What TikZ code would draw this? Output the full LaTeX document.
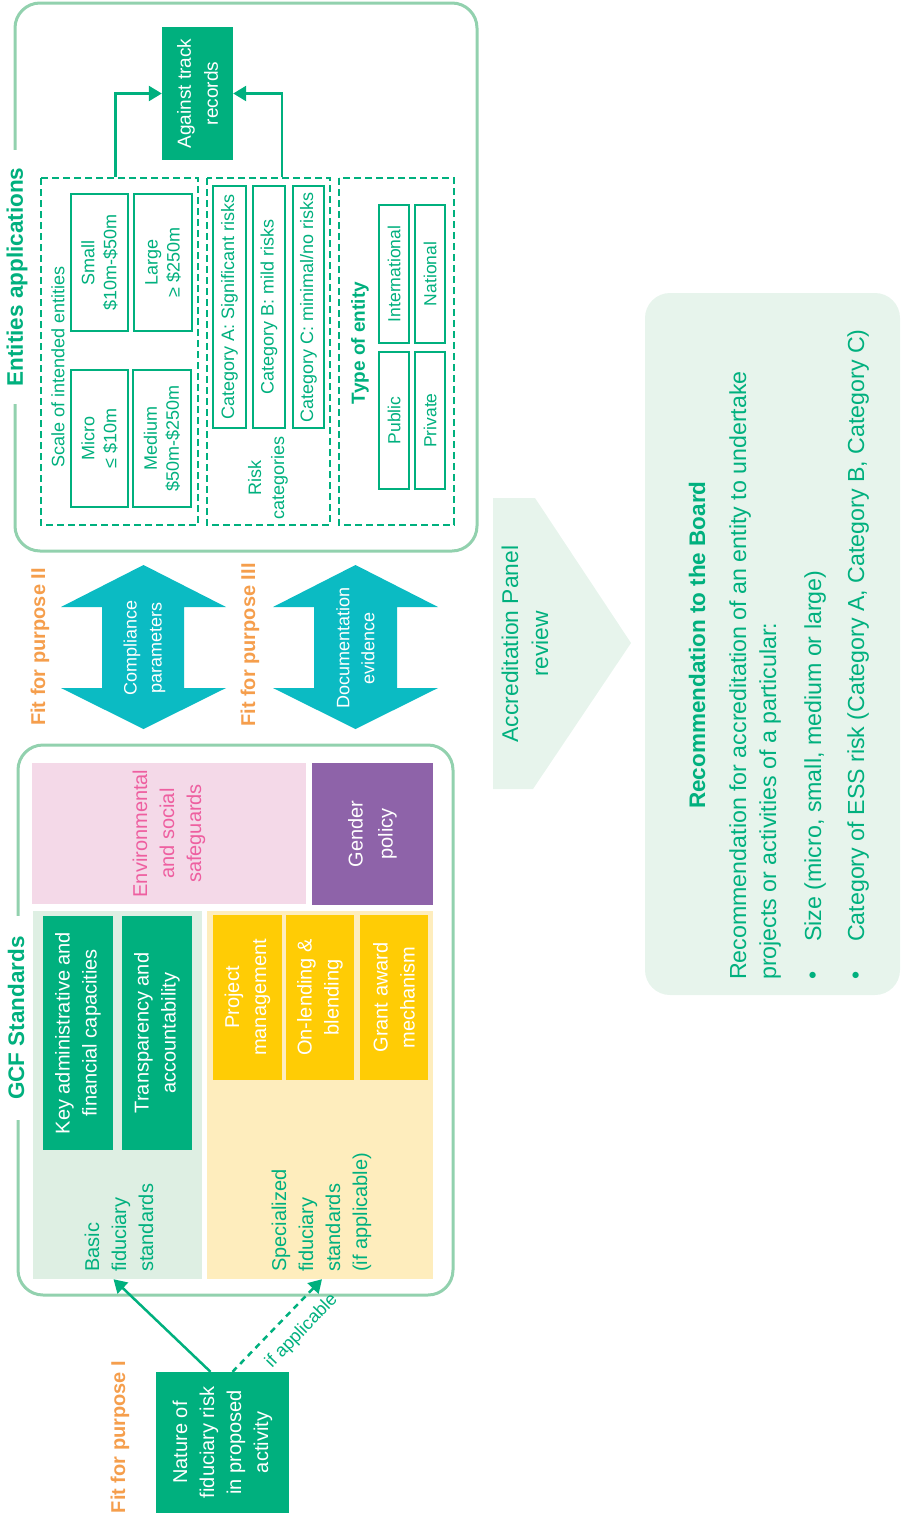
\documentclass[tikz,border=0pt]{standalone}
\usepackage{fontspec}
\setmainfont{Liberation Sans}
\usetikzlibrary{arrows.meta}
\definecolor{gg}{HTML}{00B07E}
\definecolor{lb}{HTML}{92D1AE}
\definecolor{orng}{HTML}{F59E4C}
\definecolor{teal}{HTML}{0BBBC3}
\definecolor{pinkbg}{HTML}{F4D9E8}
\definecolor{pinktx}{HTML}{EE5FA0}
\definecolor{purp}{HTML}{8E63A9}
\definecolor{basicbg}{HTML}{DEEFE3}
\definecolor{yellowbg}{HTML}{FEEDBD}
\definecolor{ybox}{HTML}{FFCC05}
\definecolor{recbg}{HTML}{E7F4EC}
\newcommand\fz[2]{\fontsize{#1pt}{#2pt}\selectfont}
\newcommand\RB[7]{%
 \pgfmathsetmacro\rbcx{(#3+#5)/2}%
 \pgfmathsetmacro\rbcy{(#4+#6)/2}%
 \pgfmathsetmacro\rbw{abs(#5-#3)}%
 \pgfmathsetmacro\rbh{abs(#6-#4)}%
 \node[rotate=90, inner sep=0pt, align=center, minimum width=\rbh pt, minimum height=\rbw pt, #2] (#1) at (\rbcx,\rbcy) {#7};}
\tikzset{
 rot/.style={rotate=90, inner sep=0pt, align=center},
 gtext/.style={text=gg},
 gbox/.style={draw=gg, line width=2.8pt, fill=white, text=gg, font=\fz{18}{22}},
 fbox/.style={fill=gg, text=white, font=\fz{20}{27}},
 ybx/.style={fill=ybox, text=white, font=\fz{20}{27}},
 dbox/.style={draw=gg, line width=1.2pt, dash pattern=on 7pt off 4pt},
 garr/.style={draw=gg, line width=2.5pt, -{Triangle[length=13pt,width=15pt]}},
 outer/.style={draw=lb, line width=3pt, rounded corners=25pt},
 ttl/.style={rot, fill=white, text=gg, font=\fz{22.5}{27}\bfseries, inner xsep=18pt, inner ysep=3pt},
 fit4/.style={rot, text=orng, font=\fz{20}{24}\bfseries},
 rectx/.style={rot, gtext, font=\fz{23.2}{30}},
}
\begin{document}
\begin{tikzpicture}[x=1pt,y=-1pt]
\useasboundingbox (0,0) rectangle (900,1518);

% ---------------- Entities applications ----------------
\RB{ent}{outer}{15}{3}{477}{551}{}
\node[ttl] (enttitle) at (17,277) {Entities applications};
\RB{track}{fill=gg, text=white, font=\fz{19}{27}}{162}{27}{233}{160}{Against track\\records}

\RB{scale}{dbox}{41}{178}{198}{525}{}
\node[rot, gtext, font=\fz{18}{22}] (scalelbl) at (58,367) {Scale of intended entities};
\RB{micro}{gbox}{71}{370}{128}{507}{Micro\\≤ \$10m}
\RB{medium}{gbox}{133}{370}{191}{507}{Medium\\\$50m-\$250m}
\RB{small}{gbox}{71}{194}{128}{331}{Small\\\$10m-\$50m}
\RB{large}{gbox}{134}{194}{192}{331}{Large\\≥ \$250m}

\RB{risk}{dbox}{207}{178}{330}{525}{}
\RB{cata}{gbox}{213}{186}{246}{428}{Category A: Significant risks}
\RB{catb}{gbox}{253}{186}{285}{428}{Category B: mild risks}
\RB{catc}{gbox}{293}{186}{324}{428}{Category C: minimal/no risks}
\node[rot, gtext, font=\fz{18}{23}] (risklbl) at (268,478) {Risk\\categories};

\RB{type}{dbox}{339}{178}{454}{525}{}
\node[rot, gtext, font=\fz{19}{23}\bfseries] (typelbl) at (360,343) {Type of entity};
\RB{intl}{gbox, font=\fz{17.5}{22}}{379}{205}{409}{343}{International}
\RB{natl}{gbox, font=\fz{17.5}{22}}{415}{205}{445}{343}{National}
\RB{publ}{gbox, font=\fz{17.5}{22}}{379}{352}{409}{489}{Public}
\RB{priv}{gbox, font=\fz{17.5}{22}}{415}{352}{445}{489}{Private}

\draw[garr] ([xshift=-4pt]scale.east) |- (track.north);
\draw[garr] ([xshift=13.5pt]risk.east) |- (track.south);

% ---------------- Fit for purpose II / III ----------------
\node[fit4] (fit2) at (40,647) {Fit for purpose II};
\node[fit4] (fit3) at (250,645) {Fit for purpose III};
\fill[teal] (61,607) -- (143.5,565) -- (226,607) -- (184,607) -- (184,688) -- (226,688)
  -- (143.5,729) -- (61,688) -- (102,688) -- (102,607) -- cycle;
\fill[teal] (273,607) -- (355.5,565) -- (438,607) -- (397,607) -- (397,688) -- (438,688)
  -- (355.5,729) -- (273,688) -- (314,688) -- (314,607) -- cycle;
\node[rot, text=white, font=\fz{18}{25}] (comp) at (144.5,648) {Compliance\\parameters};
\node[rot, text=white, font=\fz{18}{25}] (doc) at (355.5,648) {Documentation\\evidence};

% ---------------- GCF Standards ----------------
\RB{gcf}{outer}{18}{745}{453}{1295}{}
\node[ttl, inner xsep=20pt] (gcftitle) at (16,1018) {GCF Standards};
\RB{env}{fill=pinkbg, text=pinktx, font=\fz{20}{27}}{32}{763}{306}{904}{Environmental\\and social\\safeguards}
\RB{gender}{fill=purp, text=white, font=\fz{20}{30}}{312}{763}{433}{905}{Gender\\policy}
\RB{basic}{fill=basicbg}{33}{911}{202}{1279}{}
\RB{key}{fbox}{43}{916}{113}{1150}{Key administrative and\\financial capacities}
\RB{trans}{fbox}{122}{916}{192}{1150}{Transparency and\\accountability}
\node[rot, anchor=west, align=left, gtext, font=\fz{20}{27}] (basiclbl) at (119,1272) {Basic\\fiduciary\\standards};
\RB{spec}{fill=yellowbg}{207}{911}{433}{1279}{}
\RB{pm}{ybx}{213}{915}{282}{1080}{Project\\management}
\RB{ol}{ybx}{286}{915}{354}{1080}{On-lending \&\\blending}
\RB{ga}{ybx}{360}{915}{428}{1080}{Grant award\\mechanism}
\node[rot, anchor=west, align=left, gtext, font=\fz{20}{27}] (speclbl) at (321.5,1272) {Specialized\\fiduciary\\standards\\(if applicable)};

% ---------------- Fit for purpose I ----------------
\node[fit4] (fit1) at (120,1437) {Fit for purpose I};
\RB{nature}{fbox}{156}{1372}{289}{1513}{Nature of\\fiduciary risk\\in proposed\\activity}
\draw[garr] ([xshift=-12pt]nature.east) -- ([xshift=-4pt]basic.west);
\draw[garr, dash pattern=on 6pt off 5pt] ([xshift=10pt]nature.east) --
  node[sloped, pos=0.6, below=12pt, inner sep=0pt, text=gg, font=\fz{18}{22}] (ifapp) {if applicable}
  ([xshift=2pt]spec.west);

% ---------------- Accreditation Panel review ----------------
\fill[recbg] (493,498) -- (535,498) -- (631,643) -- (533,789) -- (493,789) -- cycle;
\node[rot, gtext, font=\fz{22.8}{30}] (accr) at (525,644) {Accreditation Panel\\review};

% ---------------- Recommendation ----------------
\RB{rec}{fill=recbg, rounded corners=25pt}{645}{293}{900}{995}{}
\node[rot, gtext, font=\fz{22.5}{30}\bfseries] (rechead) at (697,645) {Recommendation to the Board};
\node[rectx, anchor=west, align=left] (recpara) at (755,980)
  {Recommendation for accreditation of an entity to undertake\\projects or activities of a particular:};
\node[rectx] (bul1) at (815,975) {•};
\node[rectx, anchor=west] (size) at (815,942) {Size (micro, small, medium or large)};
\node[rectx] (bul2) at (858,975) {•};
\node[rectx, anchor=west] (ess) at (858,942) {Category of ESS risk (Category A, Category B, Category C)};
\end{tikzpicture}
\end{document}
